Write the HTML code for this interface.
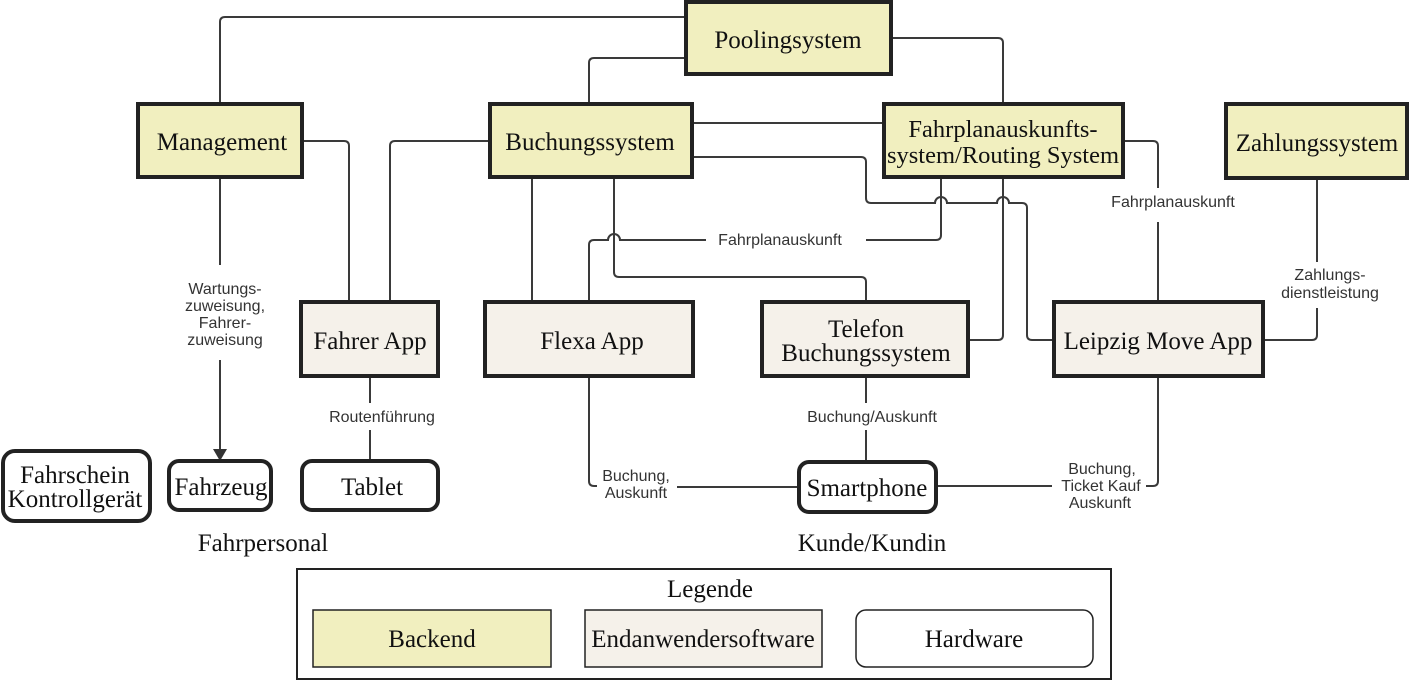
<!DOCTYPE html>
<html><head><meta charset="utf-8"><style>
html,body{margin:0;padding:0;background:#fff;width:1409px;height:681px;overflow:hidden}
svg{display:block}
.b{fill:#f1efbf;stroke:#222;stroke-width:4}
.e{fill:#f5f1ea;stroke:#222;stroke-width:4}
.h{fill:#fff;stroke:#222;stroke-width:4}
.l{fill:none;stroke:#3a3a3a;stroke-width:2}
.t{font-family:"Liberation Serif",serif;font-size:25px;fill:#111;text-anchor:middle}
.s{font-family:"Liberation Sans",sans-serif;font-size:16px;fill:#333;text-anchor:middle}
</style></head><body>
<svg width="1409" height="681" viewBox="0 0 1409 681">
<path class="l" d="M220,104 V22 Q220,17 225,17 H686"/>
<path class="l" d="M686,58 H594 Q589,58 589,63 V104"/>
<path class="l" d="M891,38 H998 Q1003,38 1003,43 V104"/>
<path class="l" d="M692,123 H884"/>
<path class="l" d="M692,157 H861 Q866,157 866,162 V198 Q866,203 871,203 H935 A6,6 0 0 1 947,203 H997 A6,6 0 0 1 1009,203 H1022 Q1027,203 1027,208 V335 Q1027,340 1032,340 H1054"/>
<path class="l" d="M941,177 V235 Q941,240 936,240 H866"/>
<path class="l" d="M706,240 H620 A6,6 0 0 0 608,240 H594 Q589,240 589,245 V302"/>
<path class="l" d="M532,177 V302"/>
<path class="l" d="M614,177 V272 Q614,277 619,277 H861 Q866,277 866,282 V302"/>
<path class="l" d="M1003,177 V335 Q1003,340 998,340 H968"/>
<path class="l" d="M302,141 H344 Q349,141 349,146 V302"/>
<path class="l" d="M490,141 H395 Q390,141 390,146 V302"/>
<path class="l" d="M220,177 V265"/>
<path class="l" d="M220,360 V450"/>
<polygon points="213,449 227,449 220,461" fill="#333"/>
<path class="l" d="M370,376 V403 M370,430 V461"/>
<path class="l" d="M1123,141 H1153 Q1158,141 1158,146 V188 M1158,222 V302"/>
<path class="l" d="M1263,340 H1312 Q1317,340 1317,335 V308 M1317,262 V178"/>
<path class="l" d="M1158,376 V481 Q1158,486 1153,486 H1146 M1052,486 H936"/>
<path class="l" d="M589,376 V481 Q589,486 594,486 H597 M677,487 H798"/>
<path class="l" d="M866,376 V403 M866,430 V462"/>
<text class="s" x="780" y="245">Fahrplanauskunft</text>
<text class="s" x="1173" y="207">Fahrplanauskunft</text>
<text class="s" x="1330" y="280">Zahlungs-</text>
<text class="s" x="1330" y="298">dienstleistung</text>
<text class="s" x="225" y="294">Wartungs-</text>
<text class="s" x="225" y="311">zuweisung,</text>
<text class="s" x="225" y="328">Fahrer-</text>
<text class="s" x="225" y="345">zuweisung</text>
<text class="s" x="382" y="422">Routenführung</text>
<text class="s" x="872" y="422">Buchung/Auskunft</text>
<text class="s" x="636" y="481">Buchung,</text>
<text class="s" x="636" y="498">Auskunft</text>
<text class="s" x="1102" y="474">Buchung,</text>
<text class="s" x="1101" y="491">Ticket Kauf</text>
<text class="s" x="1100" y="508">Auskunft</text>
<rect class="b" x="686" y="2" width="205" height="72"/><text class="t" x="788" y="48">Poolingsystem</text>
<rect class="b" x="138" y="104" width="164" height="73"/><text class="t" x="222" y="150">Management</text>
<rect class="b" x="490" y="104" width="202" height="73"/><text class="t" x="590" y="150">Buchungssystem</text>
<rect class="b" x="884" y="104" width="239" height="73"/><text class="t" x="1003" y="137" style="font-size:24.5px">Fahrplanauskunfts-</text><text class="t" x="1003" y="163" style="font-size:24.5px">system/Routing System</text>
<rect class="b" x="1226" y="104" width="181" height="74"/><text class="t" x="1317" y="151">Zahlungssystem</text>
<rect class="e" x="301" y="302" width="137" height="74"/><text class="t" x="370" y="349">Fahrer App</text>
<rect class="e" x="485" y="302" width="208" height="74"/><text class="t" x="592" y="349">Flexa App</text>
<rect class="e" x="762" y="302" width="206" height="74"/><text class="t" x="866" y="337">Telefon</text><text class="t" x="866" y="361">Buchungssystem</text>
<rect class="e" x="1054" y="302" width="209" height="74"/><text class="t" x="1158" y="349">Leipzig Move App</text>
<rect class="h" x="3" y="451" width="147" height="70" rx="12"/><text class="t" x="75" y="483">Fahrschein</text><text class="t" x="75" y="507">Kontrollgerät</text>
<rect class="h" x="169" y="461" width="102" height="49" rx="10"/><text class="t" x="221" y="495">Fahrzeug</text>
<rect class="h" x="302" y="461" width="136" height="49" rx="10"/><text class="t" x="372" y="495">Tablet</text>
<rect class="h" x="799" y="462" width="137" height="50" rx="10"/><text class="t" x="867" y="496">Smartphone</text>
<text class="t" x="263" y="551">Fahrpersonal</text>
<text class="t" x="872" y="551">Kunde/Kundin</text>
<rect x="297" y="569" width="814" height="110" fill="#fff" stroke="#222" stroke-width="2"/>
<text class="t" x="710" y="597">Legende</text>
<rect x="313" y="610" width="238" height="57" fill="#f1efbf" stroke="#222" stroke-width="1.5"/><text class="t" x="432" y="647">Backend</text>
<rect x="585" y="610" width="237" height="57" fill="#f5f1ea" stroke="#222" stroke-width="1.5"/><text class="t" x="703" y="647">Endanwendersoftware</text>
<rect x="856" y="610" width="237" height="57" rx="10" fill="#fff" stroke="#222" stroke-width="1.5"/><text class="t" x="974" y="647">Hardware</text>
</svg>
</body></html>
